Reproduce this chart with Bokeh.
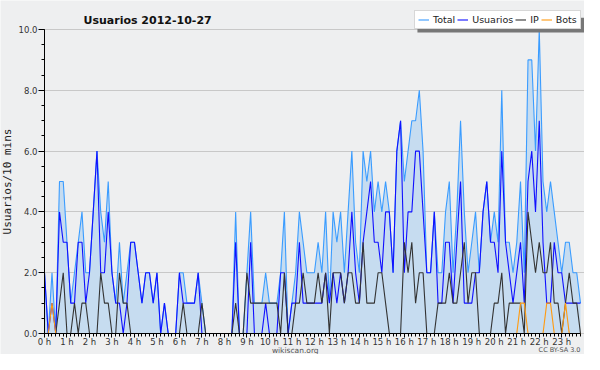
from bokeh.plotting import figure
from bokeh.models import (Range1d, FixedTicker, SingleIntervalTicker, PrintfTickFormatter,
                          Legend, LegendItem, Label, ColumnDataSource, LinearAxis,
                          BoxAnnotation, Grid)
from bokeh.embed import file_html
from bokeh.resources import INLINE

# 10-minute slots of the day (0 = 00:00 ... 143 = 23:50)
slot = list(range(144))

total = [2,0,2,0,5,5,3,1,2,3,
         4,2,2,4,6,4,3,5,2,1,
         3,1,2,3,3,2,1,2,2,1,
         2,0,1,0,0,0,2,2,1,1,
         1,2,1,0,0,0,0,0,0,0,
         0,4,0,0,2,4,1,1,1,2,
         1,1,1,2,4,0,1,2,4,3,
         2,2,2,3,2,4,1,4,3,4,
         2,4,6,3,2,6,5,6,4,5,
         4,5,4,2,6,7,5,6,7,7,
         8,6,2,2,4,2,2,4,5,2,
         4,7,4,2,3,4,2,4,5,3,
         4,3,8,3,3,2,3,5,2,9,
         9,6,10,5,4,5,4,3,2,3,
         3,2,2,1]

usuarios = [2,0,1,0,4,3,3,1,1,3,
            3,1,2,4,6,2,2,4,2,1,
            1,0,1,3,3,2,1,2,2,1,
            2,0,1,0,0,0,2,1,1,1,
            1,2,0,0,0,0,0,0,0,0,
            0,3,0,0,0,3,0,0,0,1,
            0,0,0,2,2,0,1,1,3,1,
            1,1,1,1,1,2,1,2,1,2,
            1,2,4,2,1,3,4,5,3,3,
            2,4,4,2,6,7,2,4,4,6,
            6,4,2,2,4,1,1,3,3,1,
            3,5,1,1,1,2,2,4,5,3,
            3,2,6,3,2,1,2,3,1,5,
            6,4,7,3,1,1,3,2,2,1,
            1,1,1,1]

ip = [0,0,0,0,1,2,0,0,1,0,
      1,1,0,0,0,2,1,1,0,0,
      2,1,1,0,0,0,0,0,0,0,
      0,0,0,0,0,0,0,1,0,0,
      0,0,1,0,0,0,0,0,0,0,
      0,1,0,0,2,1,1,1,1,1,
      1,1,1,0,2,0,0,1,1,2,
      1,1,1,2,1,2,0,2,2,2,
      1,2,2,1,1,3,1,1,1,2,
      2,1,0,0,0,0,3,2,3,1,
      2,2,0,0,0,1,1,1,2,1,
      1,2,3,1,2,2,0,0,0,0,
      1,1,2,0,1,1,1,1,0,4,
      3,2,3,2,2,3,1,1,0,1,
      2,1,1,0]

bots = [0,0,1,0,0,0,0,0,0,0,
        0,0,0,0,0,0,0,0,0,0,
        0,0,0,0,0,0,0,0,0,0,
        0,0,0,0,0,0,0,0,0,0,
        0,0,0,0,0,0,0,0,0,0,
        0,0,0,0,0,0,0,0,0,0,
        0,0,0,0,0,0,0,0,0,0,
        0,0,0,0,0,0,0,0,0,0,
        0,0,0,0,0,0,0,0,0,0,
        0,0,0,0,0,0,0,0,0,0,
        0,0,0,0,0,0,0,0,0,0,
        0,0,0,0,0,0,0,0,0,0,
        0,0,0,0,0,0,0,1,1,0,
        0,0,0,0,1,1,0,0,0,1,
        0,0,0,0]

hours = list(range(24))
hour_labels = [f"{h} h" for h in hours]
series_names = ["Total", "Usuarios", "IP", "Bots"]
title_text = "Usuarios  2012-10-27"
footer_texts = ["wikiscan.org", "CC BY-SA 3.0"]

src = ColumnDataSource(data=dict(slot=slot, total=total, usuarios=usuarios, ip=ip, bots=bots))

BG = "#eeeff0"
p = figure(width=584, height=354, x_range=Range1d(-11.74, 144.07), y_range=Range1d(-0.691, 10.954),
           output_backend="svg", toolbar_location=None, title=None,
           x_axis_type=None, y_axis_type=None,
           min_border_left=0, min_border_right=0, min_border_top=0, min_border_bottom=0,
           background_fill_color=BG, border_fill_color=BG,
           outline_line_color=None)

# horizontal grid lines, only across the plotting area
ygrid = Grid(dimension=1, ticker=SingleIntervalTicker(interval=2), bounds=(0, 10),
             grid_line_color="#c8c8c8", grid_line_width=1)
try:
    ygrid.cross_bounds = (0, 144.07)
except Exception:
    pass
p.add_layout(ygrid)

p.varea(x="slot", y1=0, y2="total", source=src, fill_color="#c6dcf0")
r_total = p.line("slot", "total", source=src, line_color="#3a9cff", line_width=1.1)
r_usr = p.line("slot", "usuarios", source=src, line_color="#1010ff", line_width=1.1)
r_ip = p.line("slot", "ip", source=src, line_color="#333333", line_width=1.1)
r_bots = p.line("slot", "bots", source=src, line_color="#ff9a10", line_width=1.1)

# y axis, fixed at x = 0
yaxis = LinearAxis(fixed_location=0, bounds=(0, 10),
                   ticker=SingleIntervalTicker(interval=2, num_minor_ticks=4),
                   formatter=PrintfTickFormatter(format="%.1f"),
                   major_tick_out=6, major_tick_in=0, minor_tick_out=3, minor_tick_in=0,
                   major_label_standoff=1, major_label_text_font="DejaVu Sans",
                   major_label_text_font_size="8.5px", major_label_text_color="#333333",
                   axis_label="Usuarios/10 mins", axis_label_text_font="DejaVu Sans Mono",
                   axis_label_text_font_size="11px", axis_label_text_font_style="normal",
                   axis_label_text_color="#222222", axis_label_standoff=2,
                   axis_line_color="black", major_tick_line_color="black",
                   minor_tick_line_color="black")
p.add_layout(yaxis, "left")

# hour axis, fixed at y = 0
xaxis = LinearAxis(fixed_location=0, bounds=(0, 143),
                   ticker=FixedTicker(ticks=[6 * h for h in hours], minor_ticks=slot),
                   major_label_overrides={6 * h: lab for h, lab in zip(hours, hour_labels)},
                   major_tick_out=4, major_tick_in=0, minor_tick_out=3, minor_tick_in=0,
                   major_label_standoff=0, major_label_text_font="DejaVu Sans",
                   major_label_text_font_size="8.5px", major_label_text_color="#333333",
                   axis_line_color="black", major_tick_line_color="black",
                   minor_tick_line_color="black")
p.add_layout(xaxis, "below")

# title
p.add_layout(Label(x=10.4, y=10.30, text=title_text, text_baseline="alphabetic",
                   text_font="DejaVu Sans", text_font_style="bold",
                   text_font_size="11px", text_color="#111111"))

# footer texts
p.add_layout(Label(x=66.9, y=-0.559, text=footer_texts[0], text_align="center",
                   text_baseline="alphabetic", text_font="DejaVu Sans",
                   text_font_size="7.5px", text_color="#555555"))
p.add_layout(Label(x=143, y=-0.559, text=footer_texts[1], text_align="right",
                   text_baseline="alphabetic", text_font="DejaVu Sans",
                   text_font_size="6.5px", text_color="#555555"))

# legend shadow + legend
p.add_layout(BoxAnnotation(left=99.5, right=144.3, bottom=9.90, top=10.39,
                           fill_color="#777777", fill_alpha=1, line_color=None))
legend = Legend(items=[LegendItem(label=series_names[0], renderers=[r_total]),
                       LegendItem(label=series_names[1], renderers=[r_usr]),
                       LegendItem(label=series_names[2], renderers=[r_ip]),
                       LegendItem(label=series_names[3], renderers=[r_bots])],
                orientation="horizontal", location=(414, 325),
                label_text_font="DejaVu Sans", label_text_font_size="9.5px",
                label_text_color="#222222", glyph_width=11, glyph_height=9,
                label_standoff=4, spacing=2, padding=3, margin=0,
                label_width=5, label_height=9,
                background_fill_color="white", background_fill_alpha=1,
                border_line_color="#b0b0b0", border_line_width=1)
p.add_layout(legend)

open("out.html", "w").write(file_html(p, INLINE))
